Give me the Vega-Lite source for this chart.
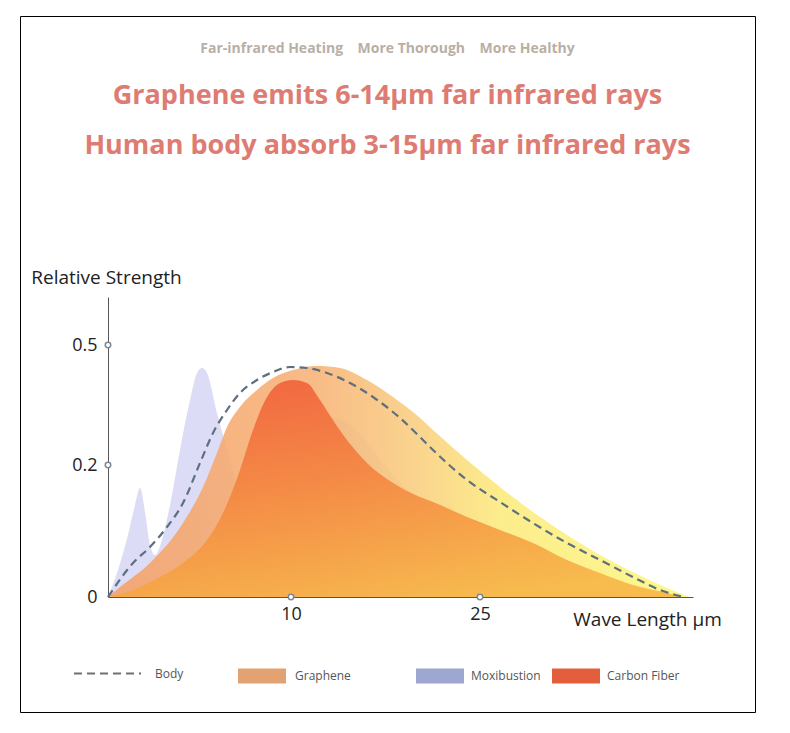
{
  "$schema": "https://vega.github.io/schema/vega-lite/v6.json",
  "width": 735,
  "height": 696,
  "autosize": {"type": "none"},
  "padding": {"left": 20, "top": 16, "right": 35, "bottom": 21},
  "background": "#ffffff",
  "config": {
    "view": {"stroke": "#000000", "strokeWidth": 1},
    "font": "Open Sans"
  },
  "title": {
    "text": "Far-infrared Heating\u00a0\u00a0\u00a0\u00a0More Thorough\u00a0\u00a0\u00a0\u00a0More Healthy",
    "subtitle": ["Graphene emits 6-14μm far infrared rays", "Human body absorb 3-15μm far infrared rays"],
    "anchor": "middle",
    "frame": "group",
    "orient": "top",
    "font": "Open Sans",
    "fontSize": 14,
    "fontWeight": "bold",
    "color": "#b9afa5",
    "subtitleFont": "Open Sans",
    "subtitleFontSize": 27,
    "subtitleFontWeight": "bold",
    "subtitleColor": "#de7b72",
    "subtitleLineHeight": 50,
    "subtitlePadding": 27,
    "baseline": "top",
    "offset": 0,
    "dy": 143
  },
  "datasets": {
    "moxibustion": [
      {"w": 0, "s": 0}, {"w": 0.546, "s": 0.0409}, {"w": 1.093, "s": 0.0939}, {"w": 1.475, "s": 0.1394},
      {"w": 1.749, "s": 0.1652}, {"w": 2.022, "s": 0.1288}, {"w": 2.295, "s": 0.0788}, {"w": 2.568, "s": 0.0636},
      {"w": 2.951, "s": 0.0864}, {"w": 3.388, "s": 0.1394}, {"w": 3.934, "s": 0.2375}, {"w": 4.481, "s": 0.3625},
      {"w": 4.863, "s": 0.43}, {"w": 5.137, "s": 0.4425}, {"w": 5.41, "s": 0.43}, {"w": 5.956, "s": 0.33},
      {"w": 6.503, "s": 0.2375}, {"w": 7.213, "s": 0.1545}, {"w": 7.869, "s": 0.1167}, {"w": 8.415, "s": 0.1091},
      {"w": 9.126, "s": 0.1288}, {"w": 9.945, "s": 0.1924}, {"w": 11.11, "s": 0.275}, {"w": 12.3, "s": 0.3125},
      {"w": 13.33, "s": 0.3175}, {"w": 14.68, "s": 0.3}, {"w": 16.03, "s": 0.2575}, {"w": 18.1, "s": 0.1848},
      {"w": 20.24, "s": 0.147}, {"w": 23.97, "s": 0.0939}, {"w": 28.73, "s": 0.0485}, {"w": 33.45, "s": 0.0182},
      {"w": 37.68, "s": 0}
    ],
    "graphene": [
      {"w": 0, "s": 0}, {"w": 0.656, "s": 0.0152}, {"w": 2.295, "s": 0.0515}, {"w": 4.098, "s": 0.1121},
      {"w": 5.191, "s": 0.1667}, {"w": 5.956, "s": 0.23}, {"w": 6.503, "s": 0.295}, {"w": 7.213, "s": 0.345},
      {"w": 8.142, "s": 0.3875}, {"w": 9.016, "s": 0.4175}, {"w": 10.159, "s": 0.4375}, {"w": 12.06, "s": 0.4475},
      {"w": 13.889, "s": 0.4425}, {"w": 16.03, "s": 0.4125}, {"w": 18.1, "s": 0.37}, {"w": 20.24, "s": 0.3175},
      {"w": 21.27, "s": 0.2875}, {"w": 23.97, "s": 0.2125}, {"w": 26.41, "s": 0.1667}, {"w": 28.73, "s": 0.1288},
      {"w": 31.13, "s": 0.0939}, {"w": 33.45, "s": 0.0636}, {"w": 35.77, "s": 0.0379}, {"w": 38.17, "s": 0.0136},
      {"w": 39.79, "s": 0}
    ],
    "carbon": [
      {"w": 0, "s": 0}, {"w": 1.366, "s": 0.0106}, {"w": 2.842, "s": 0.0303}, {"w": 4.098, "s": 0.0515},
      {"w": 5.41, "s": 0.0864}, {"w": 6.284, "s": 0.1273}, {"w": 7.213, "s": 0.1924}, {"w": 7.924, "s": 0.2875},
      {"w": 8.689, "s": 0.37}, {"w": 9.399, "s": 0.405}, {"w": 10.159, "s": 0.4125}, {"w": 11.27, "s": 0.405},
      {"w": 12.3, "s": 0.3625}, {"w": 13.33, "s": 0.3125}, {"w": 14.44, "s": 0.2625}, {"w": 16.03, "s": 0.205},
      {"w": 18.1, "s": 0.1727}, {"w": 20.24, "s": 0.1515}, {"w": 21.27, "s": 0.1439}, {"w": 23.97, "s": 0.1212},
      {"w": 26.41, "s": 0.1015}, {"w": 28.73, "s": 0.0818}, {"w": 31.13, "s": 0.0561}, {"w": 33.45, "s": 0.0364},
      {"w": 35.77, "s": 0.0182}, {"w": 38.17, "s": 0.0061}, {"w": 39.3, "s": 0}
    ],
    "body": [
      {"w": 0, "s": 0}, {"w": 1.366, "s": 0.0515}, {"w": 2.295, "s": 0.0758}, {"w": 3.224, "s": 0.1061},
      {"w": 4.098, "s": 0.1424}, {"w": 5.027, "s": 0.205}, {"w": 5.738, "s": 0.28}, {"w": 6.503, "s": 0.3375},
      {"w": 7.213, "s": 0.38}, {"w": 8.142, "s": 0.4125}, {"w": 9.016, "s": 0.4325}, {"w": 9.945, "s": 0.445},
      {"w": 11.27, "s": 0.4425}, {"w": 12.857, "s": 0.43}, {"w": 14.683, "s": 0.405}, {"w": 16.508, "s": 0.37},
      {"w": 18.651, "s": 0.3175}, {"w": 20.238, "s": 0.27}, {"w": 21.27, "s": 0.2375}, {"w": 23.97, "s": 0.1773},
      {"w": 26.41, "s": 0.1439}, {"w": 28.73, "s": 0.1121}, {"w": 31.13, "s": 0.0818}, {"w": 33.45, "s": 0.0561},
      {"w": 35.77, "s": 0.0303}, {"w": 37.68, "s": 0.0106}, {"w": 39.3, "s": 0}
    ],
    "ticks": [
      {"w": 10, "s": 0}, {"w": 25, "s": 0}, {"w": 0, "s": 0.2}, {"w": 0, "s": 0.5}
    ]
  },
  "encoding": {
    "x": {
      "field": "w", "type": "quantitative",
      "scale": {"domain": [0, 10, 25, 40], "range": [88, 271, 460, 673], "zero": false, "nice": false},
      "axis": {
        "orient": "bottom", "offset": -115, "values": [10, 25], "format": "d",
        "domainColor": "#555555", "domainWidth": 1, "ticks": false, "grid": false,
        "labelFont": "Open Sans", "labelFontSize": 18, "labelColor": "#222222", "labelPadding": 8, "labelDx": 6,
        "title": "Wave Length μm", "titleFont": "Open Sans", "titleFontSize": 19, "titleFontWeight": "normal",
        "titleColor": "#222222", "titleX": 627, "titleY": 22, "titleAlign": "center", "titleBaseline": "middle"
      }
    },
    "y": {
      "field": "s", "type": "quantitative",
      "scale": {"domain": [0, 0.2, 0.62], "range": [581, 449, 281], "zero": false, "nice": false},
      "axis": {
        "orient": "left", "offset": -88, "values": [0, 0.2, 0.5], "format": ".1~f",
        "domainColor": "#555555", "domainWidth": 1, "ticks": false, "grid": false,
        "labelFont": "Open Sans", "labelFontSize": 18, "labelColor": "#222222", "labelPadding": 11,
        "title": "Relative Strength", "titleFont": "Open Sans", "titleFontSize": 19, "titleFontWeight": "normal",
        "titleColor": "#222222", "titleAngle": 0, "titleX": -2, "titleY": 261, "titleAlign": "center", "titleBaseline": "middle"
      }
    }
  },
  "layer": [
    {
      "data": {"name": "moxibustion"},
      "mark": {"type": "area", "interpolate": "monotone", "color": "#dcdcf6", "opacity": 1}
    },
    {
      "data": {"name": "graphene"},
      "mark": {
        "type": "area", "interpolate": "monotone", "opacity": 0.88,
        "color": {
          "gradient": "linear", "x1": 0, "y1": 0, "x2": 1, "y2": 0,
          "stops": [
            {"offset": 0, "color": "#f5a066"},
            {"offset": 0.35, "color": "#f7b176"},
            {"offset": 0.52, "color": "#f9cc7e"},
            {"offset": 0.68, "color": "#fceb7c"},
            {"offset": 1, "color": "#fdf67f"}
          ]
        }
      }
    },
    {
      "data": {"name": "carbon"},
      "mark": {
        "type": "area", "interpolate": "monotone", "opacity": 0.9,
        "color": {
          "gradient": "linear", "x1": 0.3, "y1": 0, "x2": 0.6, "y2": 1,
          "stops": [
            {"offset": 0, "color": "#f1603a"},
            {"offset": 0.45, "color": "#f4853f"},
            {"offset": 1, "color": "#f7b547"}
          ]
        }
      }
    },
    {
      "data": {"name": "body"},
      "mark": {"type": "line", "interpolate": "monotone", "color": "#5f6f7e", "strokeWidth": 2.2},
      "encoding": {
        "strokeDash": {
          "datum": "Body",
          "scale": {"domain": ["Body"], "range": [[8, 5]]},
          "legend": {
            "orient": "none", "legendX": 53, "legendY": 623, "title": null, "padding": 0,
            "symbolType": "stroke", "symbolSize": 4489, "symbolStrokeWidth": 2, "symbolStrokeColor": "#707070",
            "labelFont": "Open Sans", "labelFontSize": 12, "labelColor": "#555555", "labelOffset": 13
          }
        }
      }
    },
    {
      "data": {"name": "ticks"},
      "mark": {"type": "point", "shape": "circle", "filled": true, "fill": "#ffffff", "stroke": "#7d8793", "strokeWidth": 1.5, "size": 30, "opacity": 1}
    },
    {
      "data": {"values": []},
      "mark": {"type": "point"},
      "encoding": {
        "fill": {
          "datum": "Graphene",
          "scale": {"domain": ["Graphene"], "range": ["#e2a272"]},
          "legend": {
            "orient": "none", "legendX": 218, "legendY": 636, "title": null, "padding": 0,
            "symbolType": "M-1,-0.31H1V0.31H-1Z", "symbolSize": 2304, "symbolStrokeWidth": 0, "symbolOpacity": 1,
            "labelFont": "Open Sans", "labelFontSize": 12, "labelColor": "#555555", "labelOffset": 9
          }
        }
      }
    },
    {
      "data": {"values": []},
      "mark": {"type": "point"},
      "encoding": {
        "fill": {
          "datum": "Moxibustion",
          "scale": {"domain": ["Moxibustion"], "range": ["#9da7cf"]},
          "legend": {
            "orient": "none", "legendX": 396, "legendY": 636, "title": null, "padding": 0,
            "symbolType": "M-1,-0.31H1V0.31H-1Z", "symbolSize": 2304, "symbolStrokeWidth": 0, "symbolOpacity": 1,
            "labelFont": "Open Sans", "labelFontSize": 12, "labelColor": "#555555", "labelOffset": 7
          }
        }
      }
    },
    {
      "data": {"values": []},
      "mark": {"type": "point"},
      "encoding": {
        "fill": {
          "datum": "Carbon Fiber",
          "scale": {"domain": ["Carbon Fiber"], "range": ["#e35e3d"]},
          "legend": {
            "orient": "none", "legendX": 532, "legendY": 636, "title": null, "padding": 0,
            "symbolType": "M-1,-0.31H1V0.31H-1Z", "symbolSize": 2304, "symbolStrokeWidth": 0, "symbolOpacity": 1,
            "labelFont": "Open Sans", "labelFontSize": 12, "labelColor": "#555555", "labelOffset": 7
          }
        }
      }
    }
  ],
  "resolve": {
    "scale": {"fill": "independent", "strokeDash": "independent"},
    "legend": {"fill": "independent", "strokeDash": "independent"}
  }
}
